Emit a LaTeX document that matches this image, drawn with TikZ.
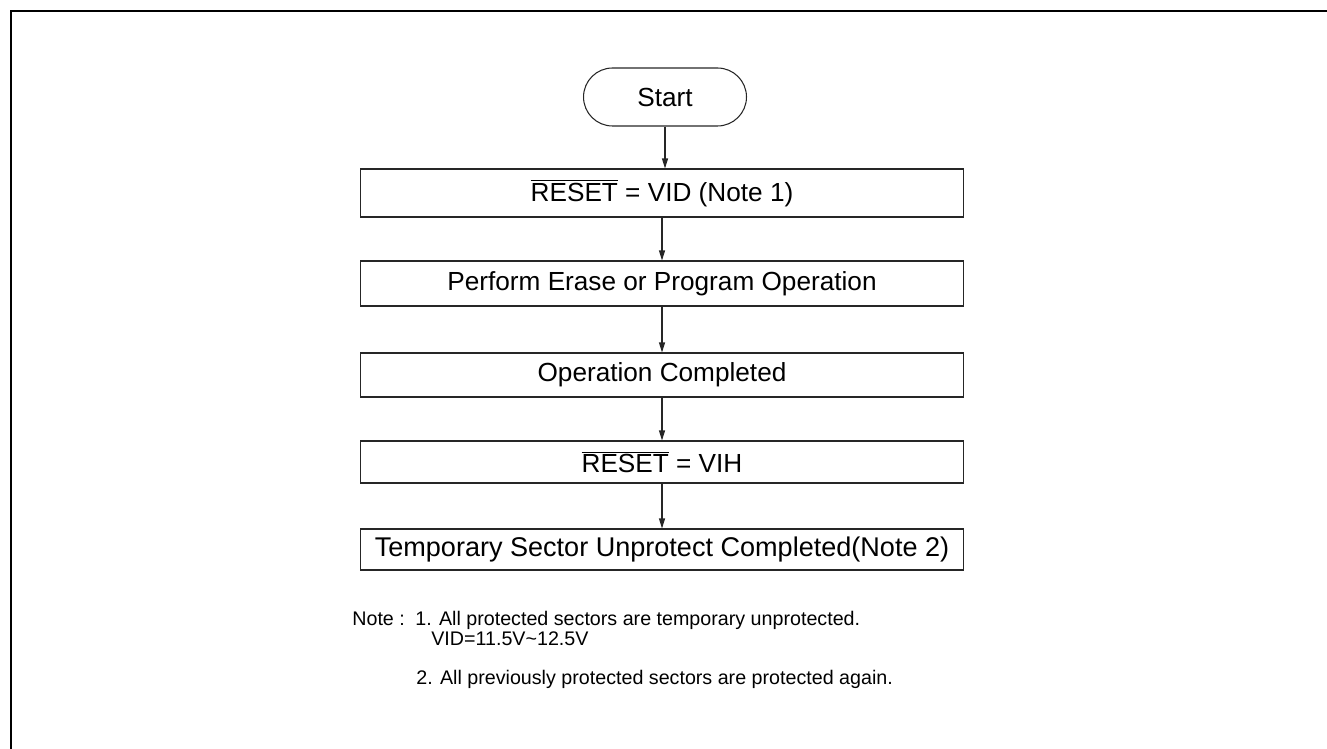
\documentclass[tikz,border=0pt]{standalone}
\usepackage{fontspec}
\setmainfont{Liberation Sans}
\usetikzlibrary{arrows.meta}

\begin{document}
\begin{tikzpicture}[x=0.02cm,y=-0.02cm,
        stepbox/.style={draw=black!85,line width=.6pt,minimum width=12.08cm,minimum height=#1,inner sep=0pt,font=\fontsize{14.9}{17}\selectfont},
        notetext/.style={anchor=base west,inner sep=0pt,font=\fontsize{11.2}{13.5}\selectfont},
        flow/.style={-{Triangle[length=2mm,width=1.2mm]},line width=.6pt,draw=black!85}]
        \useasboundingbox (0,0) rectangle (1327,749);

        % Outer frame, cut by the page at right and bottom
        \begin{scope}
            \clip (0,0) rectangle (1327,749);
            \draw[line width=1.4pt] (11,11) rectangle (1360,780);
        \end{scope}

        % Flow steps
        \node[draw=black!85,line width=.6pt,minimum width=3.26cm,minimum height=1.16cm,rounded corners=.58cm,font=\fontsize{14.9}{17}\selectfont] (start) at (665,97) {Start};
        \node[stepbox=.96cm] (vid) at (662,193) {$\overline{\hbox{RESET}}$ = VID (Note 1)};
        \node[stepbox=.9cm] (oper) at (662,283.5) {Perform Erase or Program Operation};
        \node[stepbox=.88cm] (done) at (662,375) {Operation Completed};
        \node[stepbox=.84cm] (vih) at (662,462) {$\overline{\hbox{RESET}}$ = VIH};
        \node[stepbox=.82cm,font=\fontsize{15.4}{17}\selectfont] (unprot) at (662,549.5) {Temporary Sector Unprotect Completed(Note 2)};

        % Connectors
        \draw[flow] (start.south) -- (start.south |- vid.north);
        \draw[flow] (vid) -- (oper);
        \draw[flow] (oper) -- (done);
        \draw[flow] (done) -- (vih);
        \draw[flow] (vih) -- (unprot);

        % Notes
        \node[notetext] (notehead) at (352,625) {Note :};
        \node[notetext] (noteone) at (415,625) {1. All protected sectors are temporary unprotected.};
        \node[notetext] (notevid) at (431,645) {VID=11.5V\textasciitilde 12.5V};
        \node[notetext] (notetwo) at (416,684) {2. All previously protected sectors are protected again.};
    \end{tikzpicture}
\end{document}
